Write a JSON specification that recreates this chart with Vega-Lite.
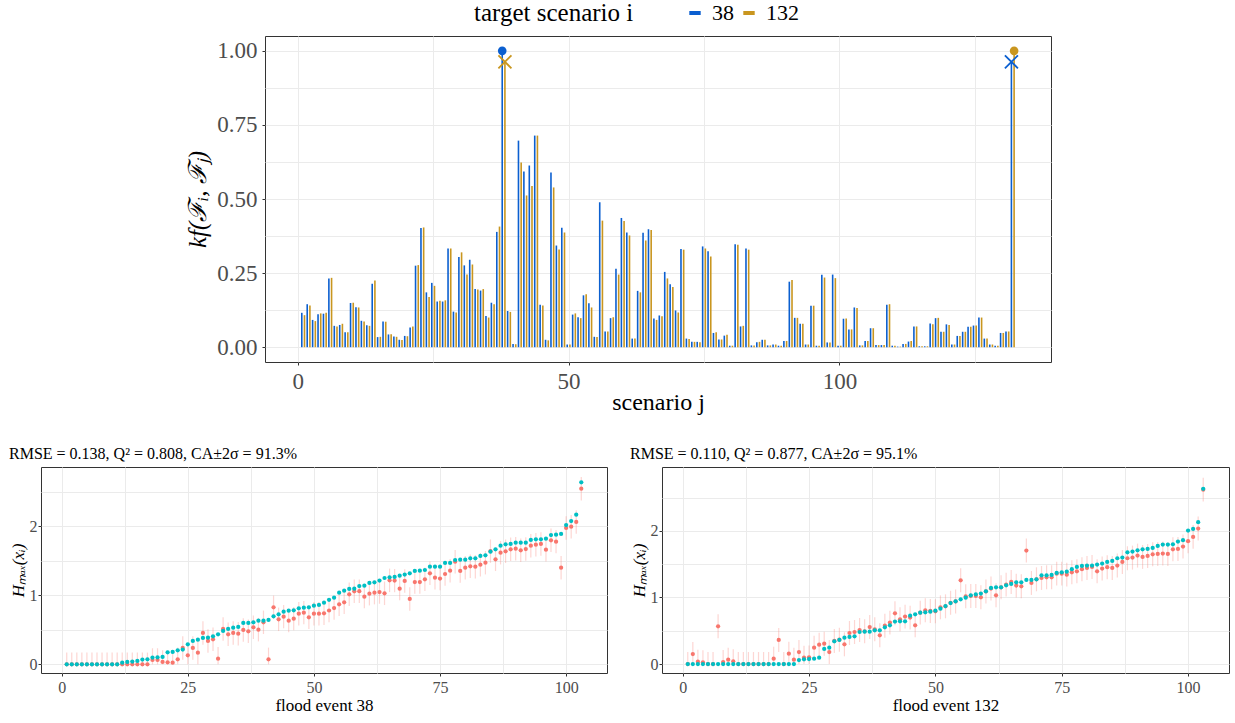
{
"$schema":"https://vega.github.io/schema/vega-lite/v6.json",
"background":"white",
"padding":{"left":8,"top":2,"right":5,"bottom":2},
"config":{
 "font":"Liberation Serif",
 "view":{"stroke":"#333333","strokeWidth":1},
 "axis":{"domain":false,"gridColor":"#EBEBEB","gridWidth":1,"tickColor":"#333333","tickSize":3,"labelColor":"#4D4D4D","titleColor":"#000000","titleFontWeight":"normal","labelFont":"Liberation Serif","titleFont":"Liberation Serif"},
 "legend":{"labelFont":"Liberation Serif","titleFont":"Liberation Serif"},
 "title":{"font":"Liberation Serif","fontWeight":"normal","color":"#000000"},
 "style":{"guide-title":{"font":"Liberation Serif"},"guide-label":{"font":"Liberation Serif"},"group-title":{"font":"Liberation Serif"}}
},
"datasets":{
"k":[
{"j":1,"a":0.116,"b":0.108},{"j":2,"a":0.145,"b":0.141},{"j":3,"a":0.092,"b":0.088},{"j":4,"a":0.111,"b":0.114},{"j":5,"a":0.113,"b":0.116},{"j":6,"a":0.232,"b":0.234},{"j":7,"a":0.072,"b":0.070},{"j":8,"a":0.075,"b":0.079},{"j":9,"a":0.050,"b":0.050},{"j":10,"a":0.149,"b":0.150},
{"j":11,"a":0.135,"b":0.134},{"j":12,"a":0.089,"b":0.087},{"j":13,"a":0.074,"b":0.072},{"j":14,"a":0.214,"b":0.225},{"j":15,"a":0.034,"b":0.035},{"j":16,"a":0.087,"b":0.086},{"j":17,"a":0.043,"b":0.044},{"j":18,"a":0.036,"b":0.035},{"j":19,"a":0.025,"b":0.024},{"j":20,"a":0.038,"b":0.037},
{"j":21,"a":0.066,"b":0.070},{"j":22,"a":0.275,"b":0.277},{"j":23,"a":0.402,"b":0.404},{"j":24,"a":0.185,"b":0.169},{"j":25,"a":0.217,"b":0.207},{"j":26,"a":0.154,"b":0.157},{"j":27,"a":0.154,"b":0.158},{"j":28,"a":0.333,"b":0.333},{"j":29,"a":0.120,"b":0.117},{"j":30,"a":0.304,"b":0.320},
{"j":31,"a":0.276,"b":0.245},{"j":32,"a":0.295,"b":0.279},{"j":33,"a":0.196,"b":0.195},{"j":34,"a":0.191,"b":0.196},{"j":35,"a":0.105,"b":0.100},{"j":36,"a":0.150,"b":0.145},{"j":37,"a":0.389,"b":0.407},{"j":38,"a":1.0,"b":0.963},{"j":39,"a":0.122,"b":0.119},{"j":40,"a":0.011,"b":0.010},
{"j":41,"a":0.697,"b":0.623},{"j":42,"a":0.593,"b":0.512},{"j":43,"a":0.613,"b":0.544},{"j":44,"a":0.714,"b":0.714},{"j":45,"a":0.143,"b":0.141},{"j":46,"a":0.025,"b":0.023},{"j":47,"a":0.589,"b":0.539},{"j":48,"a":0.343,"b":0.330},{"j":49,"a":0.403,"b":0.387},{"j":50,"a":0.009,"b":0.009},
{"j":51,"a":0.110,"b":0.114},{"j":52,"a":0.101,"b":0.098},{"j":53,"a":0.175,"b":0.179},{"j":54,"a":0.148,"b":0.134},{"j":55,"a":0.035,"b":0.034},{"j":56,"a":0.489,"b":0.427},{"j":57,"a":0.053,"b":0.053},{"j":58,"a":0.098,"b":0.101},{"j":59,"a":0.265,"b":0.245},{"j":60,"a":0.436,"b":0.426},
{"j":61,"a":0.387,"b":0.377},{"j":62,"a":0.029,"b":0.029},{"j":63,"a":0.190,"b":0.185},{"j":64,"a":0.386,"b":0.360},{"j":65,"a":0.398,"b":0.395},{"j":66,"a":0.097,"b":0.092},{"j":67,"a":0.107,"b":0.104},{"j":68,"a":0.254,"b":0.232},{"j":69,"a":0.212,"b":0.203},{"j":70,"a":0.124,"b":0.117},
{"j":71,"a":0.331,"b":0.329},{"j":72,"a":0.029,"b":0.028},{"j":73,"a":0.018,"b":0.018},{"j":74,"a":0.018,"b":0.017},{"j":75,"a":0.340,"b":0.333},{"j":76,"a":0.324,"b":0.306},{"j":77,"a":0.048,"b":0.050},{"j":78,"a":0.026,"b":0.026},{"j":79,"a":0.039,"b":0.042},{"j":80,"a":0.005,"b":0.005},
{"j":81,"a":0.347,"b":0.346},{"j":82,"a":0.070,"b":0.072},{"j":83,"a":0.333,"b":0.329},{"j":84,"a":0.006,"b":0.006},{"j":85,"a":0.017,"b":0.018},{"j":86,"a":0.025,"b":0.025},{"j":87,"a":0.006,"b":0.006},{"j":88,"a":0.009,"b":0.009},{"j":89,"a":0.005,"b":0.005},{"j":90,"a":0.021,"b":0.021},
{"j":91,"a":0.221,"b":0.227},{"j":92,"a":0.099,"b":0.099},{"j":93,"a":0.079,"b":0.079},{"j":94,"a":0.009,"b":0.009},{"j":95,"a":0.140,"b":0.140},{"j":96,"a":0.005,"b":0.005},{"j":97,"a":0.244,"b":0.235},{"j":98,"a":0.016,"b":0.016},{"j":99,"a":0.245,"b":0.233},{"j":100,"a":0.005,"b":0.005},
{"j":101,"a":0.096,"b":0.097},{"j":102,"a":0.060,"b":0.060},{"j":103,"a":0.134,"b":0.132},{"j":104,"a":0.006,"b":0.006},{"j":105,"a":0.021,"b":0.021},{"j":106,"a":0.064,"b":0.064},{"j":107,"a":0.007,"b":0.007},{"j":108,"a":0.007,"b":0.007},{"j":109,"a":0.143,"b":0.145},{"j":110,"a":0.005,"b":0.005},
{"j":111,"a":0.002,"b":0.002},{"j":112,"a":0.011,"b":0.011},{"j":113,"a":0.019,"b":0.021},{"j":114,"a":0.070,"b":0.070},{"j":115,"a":0.003,"b":0.003},{"j":116,"a":0.003,"b":0.003},{"j":117,"a":0.080,"b":0.077},{"j":118,"a":0.098,"b":0.099},{"j":119,"a":0.052,"b":0.052},{"j":120,"a":0.077,"b":0.075},
{"j":121,"a":0.009,"b":0.009},{"j":122,"a":0.038,"b":0.038},{"j":123,"a":0.052,"b":0.052},{"j":124,"a":0.069,"b":0.069},{"j":125,"a":0.073,"b":0.073},{"j":126,"a":0.100,"b":0.100},{"j":127,"a":0.029,"b":0.029},{"j":128,"a":0.009,"b":0.009},{"j":129,"a":0.005,"b":0.005},{"j":130,"a":0.048,"b":0.048},
{"j":131,"a":0.053,"b":0.053},{"j":132,"a":0.963,"b":1.0}
],
"e38":[
{"i":1,"o":0,"p":0,"lo":0,"hi":0.17},{"i":2,"o":0,"p":0,"lo":0,"hi":0.17},{"i":3,"o":0,"p":0,"lo":0,"hi":0.17},{"i":4,"o":0,"p":0,"lo":0,"hi":0.17},{"i":5,"o":0,"p":0,"lo":0,"hi":0.17},{"i":6,"o":0,"p":0,"lo":0,"hi":0.17},{"i":7,"o":0,"p":0,"lo":0,"hi":0.17},{"i":8,"o":0,"p":0,"lo":0,"hi":0.17},{"i":9,"o":0,"p":0,"lo":0,"hi":0.17},{"i":10,"o":0,"p":0,"lo":0,"hi":0.17},
{"i":11,"o":0,"p":0,"lo":0,"hi":0.17},{"i":12,"o":0.024,"p":0,"lo":0,"hi":0.17},{"i":13,"o":0.034,"p":0,"lo":0,"hi":0.17},{"i":14,"o":0.039,"p":0,"lo":0,"hi":0.17},{"i":15,"o":0.048,"p":0,"lo":0,"hi":0.17},{"i":16,"o":0.068,"p":0,"lo":0,"hi":0.17},{"i":17,"o":0.072,"p":0,"lo":0,"hi":0.17},{"i":18,"o":0.097,"p":0.063,"lo":0,"hi":0.233},{"i":19,"o":0.101,"p":0.063,"lo":0,"hi":0.233},{"i":20,"o":0.106,"p":0.034,"lo":0,"hi":0.204},
{"i":21,"o":0.174,"p":0.029,"lo":0,"hi":0.199},{"i":22,"o":0.179,"p":0.024,"lo":0,"hi":0.194},{"i":23,"o":0.203,"p":0.072,"lo":0,"hi":0.242},{"i":24,"o":0.213,"p":0.237,"lo":0.067,"hi":0.407},{"i":25,"o":0.290,"p":0.130,"lo":0,"hi":0.300},{"i":26,"o":0.338,"p":0.237,"lo":0.067,"hi":0.407},{"i":27,"o":0.357,"p":0.169,"lo":0,"hi":0.339},{"i":28,"o":0.382,"p":0.454,"lo":0.284,"hi":0.624},{"i":29,"o":0.386,"p":0.338,"lo":0.168,"hi":0.508},{"i":30,"o":0.406,"p":0.362,"lo":0.192,"hi":0.532},
{"i":31,"o":0.435,"p":0.082,"lo":0,"hi":0.252},{"i":32,"o":0.483,"p":0.512,"lo":0.342,"hi":0.682},{"i":33,"o":0.512,"p":0.435,"lo":0.265,"hi":0.605},{"i":34,"o":0.531,"p":0.454,"lo":0.284,"hi":0.624},{"i":35,"o":0.541,"p":0.444,"lo":0.274,"hi":0.614},{"i":36,"o":0.599,"p":0.498,"lo":0.328,"hi":0.668},{"i":37,"o":0.599,"p":0.478,"lo":0.308,"hi":0.648},{"i":38,"o":0.609,"p":0.536,"lo":0.366,"hi":0.706},{"i":39,"o":0.633,"p":0.502,"lo":0.332,"hi":0.672},{"i":40,"o":0.633,"p":0.609,"lo":0.439,"hi":0.779},
{"i":41,"o":0.643,"p":0.072,"lo":0,"hi":0.242},{"i":42,"o":0.696,"p":0.826,"lo":0.656,"hi":0.996},{"i":43,"o":0.725,"p":0.652,"lo":0.482,"hi":0.822},{"i":44,"o":0.763,"p":0.691,"lo":0.521,"hi":0.861},{"i":45,"o":0.778,"p":0.633,"lo":0.463,"hi":0.803},{"i":46,"o":0.783,"p":0.662,"lo":0.492,"hi":0.832},{"i":47,"o":0.812,"p":0.734,"lo":0.564,"hi":0.904},{"i":48,"o":0.821,"p":0.749,"lo":0.579,"hi":0.919},{"i":49,"o":0.826,"p":0.681,"lo":0.511,"hi":0.851},{"i":50,"o":0.850,"p":0.734,"lo":0.564,"hi":0.904},
{"i":51,"o":0.860,"p":0.734,"lo":0.564,"hi":0.904},{"i":52,"o":0.894,"p":0.739,"lo":0.569,"hi":0.909},{"i":53,"o":0.935,"p":0.780,"lo":0.610,"hi":0.950},{"i":54,"o":0.966,"p":0.816,"lo":0.646,"hi":0.986},{"i":55,"o":1.039,"p":0.870,"lo":0.700,"hi":1.040},{"i":56,"o":1.068,"p":0.899,"lo":0.729,"hi":1.069},{"i":57,"o":1.092,"p":1.014,"lo":0.844,"hi":1.184},{"i":58,"o":1.097,"p":1.058,"lo":0.888,"hi":1.228},{"i":59,"o":1.135,"p":1.060,"lo":0.890,"hi":1.230},{"i":60,"o":1.140,"p":0.981,"lo":0.811,"hi":1.151},
{"i":61,"o":1.179,"p":1.024,"lo":0.854,"hi":1.194},{"i":62,"o":1.188,"p":1.039,"lo":0.869,"hi":1.209},{"i":63,"o":1.213,"p":1.048,"lo":0.878,"hi":1.218},{"i":64,"o":1.251,"p":1.029,"lo":0.859,"hi":1.199},{"i":65,"o":1.261,"p":1.217,"lo":1.047,"hi":1.387},{"i":66,"o":1.266,"p":1.213,"lo":1.043,"hi":1.383},{"i":67,"o":1.285,"p":1.097,"lo":0.927,"hi":1.267},{"i":68,"o":1.300,"p":1.208,"lo":1.038,"hi":1.378},{"i":69,"o":1.319,"p":0.947,"lo":0.777,"hi":1.117},{"i":70,"o":1.353,"p":1.193,"lo":1.023,"hi":1.363},
{"i":71,"o":1.357,"p":1.193,"lo":1.023,"hi":1.363},{"i":72,"o":1.367,"p":1.232,"lo":1.062,"hi":1.402},{"i":73,"o":1.415,"p":1.319,"lo":1.149,"hi":1.489},{"i":74,"o":1.415,"p":1.256,"lo":1.086,"hi":1.426},{"i":75,"o":1.415,"p":1.242,"lo":1.072,"hi":1.412},{"i":76,"o":1.469,"p":1.309,"lo":1.139,"hi":1.479},{"i":77,"o":1.469,"p":1.357,"lo":1.187,"hi":1.527},{"i":78,"o":1.512,"p":1.488,"lo":1.318,"hi":1.658},{"i":79,"o":1.517,"p":1.353,"lo":1.183,"hi":1.523},{"i":80,"o":1.517,"p":1.401,"lo":1.231,"hi":1.571},
{"i":81,"o":1.536,"p":1.420,"lo":1.250,"hi":1.590},{"i":82,"o":1.536,"p":1.415,"lo":1.245,"hi":1.585},{"i":83,"o":1.570,"p":1.444,"lo":1.274,"hi":1.614},{"i":84,"o":1.580,"p":1.473,"lo":1.303,"hi":1.643},{"i":85,"o":1.633,"p":1.640,"lo":1.470,"hi":1.810},{"i":86,"o":1.667,"p":1.522,"lo":1.352,"hi":1.692},{"i":87,"o":1.720,"p":1.618,"lo":1.448,"hi":1.788},{"i":88,"o":1.739,"p":1.638,"lo":1.468,"hi":1.808},{"i":89,"o":1.744,"p":1.667,"lo":1.497,"hi":1.837},{"i":90,"o":1.763,"p":1.676,"lo":1.506,"hi":1.846},
{"i":91,"o":1.763,"p":1.652,"lo":1.482,"hi":1.822},{"i":92,"o":1.763,"p":1.671,"lo":1.501,"hi":1.841},{"i":93,"o":1.802,"p":1.720,"lo":1.550,"hi":1.890},{"i":94,"o":1.812,"p":1.734,"lo":1.564,"hi":1.904},{"i":95,"o":1.812,"p":1.744,"lo":1.574,"hi":1.914},{"i":96,"o":1.821,"p":1.662,"lo":1.492,"hi":1.832},{"i":97,"o":1.874,"p":1.797,"lo":1.627,"hi":1.967},{"i":98,"o":1.879,"p":1.778,"lo":1.608,"hi":1.948},{"i":99,"o":1.889,"p":1.401,"lo":1.231,"hi":1.571},{"i":100,"o":2.019,"p":1.976,"lo":1.806,"hi":2.146},
{"i":101,"o":2.077,"p":1.995,"lo":1.825,"hi":2.165},{"i":102,"o":2.169,"p":2.063,"lo":1.893,"hi":2.233},{"i":103,"o":2.638,"p":2.546,"lo":2.376,"hi":2.716}
],
"e132":[
{"i":1,"o":0,"p":0,"lo":0,"hi":0.18},{"i":2,"o":0,"p":0.150,"lo":0,"hi":0.330},{"i":3,"o":0,"p":0.035,"lo":0,"hi":0.215},{"i":4,"o":0,"p":0.025,"lo":0,"hi":0.205},{"i":5,"o":0,"p":0,"lo":0,"hi":0.18},{"i":6,"o":0,"p":0,"lo":0,"hi":0.18},{"i":7,"o":0,"p":0.566,"lo":0.386,"hi":0.746},{"i":8,"o":0,"p":0.030,"lo":0,"hi":0.210},{"i":9,"o":0,"p":0.065,"lo":0,"hi":0.245},{"i":10,"o":0,"p":0.040,"lo":0,"hi":0.220},
{"i":11,"o":0,"p":0,"lo":0,"hi":0.18},{"i":12,"o":0,"p":0,"lo":0,"hi":0.18},{"i":13,"o":0,"p":0,"lo":0,"hi":0.18},{"i":14,"o":0,"p":0,"lo":0,"hi":0.18},{"i":15,"o":0,"p":0,"lo":0,"hi":0.18},{"i":16,"o":0,"p":0,"lo":0,"hi":0.18},{"i":17,"o":0,"p":0,"lo":0,"hi":0.18},{"i":18,"o":0,"p":0.080,"lo":0,"hi":0.260},{"i":19,"o":0,"p":0.361,"lo":0.181,"hi":0.541},{"i":20,"o":0,"p":0,"lo":0,"hi":0.18},
{"i":21,"o":0,"p":0.155,"lo":0,"hi":0.335},{"i":22,"o":0,"p":0.065,"lo":0,"hi":0.245},{"i":23,"o":0.060,"p":0.180,"lo":0,"hi":0.360},{"i":24,"o":0.070,"p":0.095,"lo":0,"hi":0.275},{"i":25,"o":0.075,"p":0.100,"lo":0,"hi":0.280},{"i":26,"o":0.080,"p":0.246,"lo":0.066,"hi":0.426},{"i":27,"o":0.095,"p":0.291,"lo":0.111,"hi":0.471},{"i":28,"o":0.226,"p":0.306,"lo":0.126,"hi":0.486},{"i":29,"o":0.246,"p":0.180,"lo":0,"hi":0.360},{"i":30,"o":0.341,"p":0.346,"lo":0.166,"hi":0.526},
{"i":31,"o":0.361,"p":0.366,"lo":0.186,"hi":0.546},{"i":32,"o":0.396,"p":0.296,"lo":0.116,"hi":0.476},{"i":33,"o":0.406,"p":0.466,"lo":0.286,"hi":0.646},{"i":34,"o":0.416,"p":0.481,"lo":0.301,"hi":0.661},{"i":35,"o":0.481,"p":0.511,"lo":0.331,"hi":0.691},{"i":36,"o":0.486,"p":0.491,"lo":0.311,"hi":0.671},{"i":37,"o":0.486,"p":0.556,"lo":0.376,"hi":0.736},{"i":38,"o":0.506,"p":0.521,"lo":0.341,"hi":0.701},{"i":39,"o":0.506,"p":0.431,"lo":0.251,"hi":0.611},{"i":40,"o":0.551,"p":0.576,"lo":0.396,"hi":0.756},
{"i":41,"o":0.581,"p":0.622,"lo":0.442,"hi":0.802},{"i":42,"o":0.637,"p":0.762,"lo":0.582,"hi":0.942},{"i":43,"o":0.642,"p":0.672,"lo":0.492,"hi":0.852},{"i":44,"o":0.642,"p":0.712,"lo":0.532,"hi":0.892},{"i":45,"o":0.727,"p":0.697,"lo":0.517,"hi":0.877},{"i":46,"o":0.747,"p":0.581,"lo":0.401,"hi":0.761},{"i":47,"o":0.772,"p":0.772,"lo":0.592,"hi":0.952},{"i":48,"o":0.777,"p":0.807,"lo":0.627,"hi":0.987},{"i":49,"o":0.787,"p":0.797,"lo":0.617,"hi":0.977},{"i":50,"o":0.802,"p":0.792,"lo":0.612,"hi":0.972},
{"i":51,"o":0.832,"p":0.852,"lo":0.672,"hi":1.032},{"i":52,"o":0.870,"p":0.867,"lo":0.687,"hi":1.047},{"i":53,"o":0.915,"p":0.920,"lo":0.740,"hi":1.100},{"i":54,"o":0.942,"p":0.940,"lo":0.760,"hi":1.120},{"i":55,"o":0.972,"p":1.258,"lo":1.078,"hi":1.438},{"i":56,"o":0.997,"p":1.018,"lo":0.838,"hi":1.198},{"i":57,"o":1.033,"p":1.023,"lo":0.843,"hi":1.203},{"i":58,"o":1.048,"p":1.023,"lo":0.843,"hi":1.203},{"i":59,"o":1.058,"p":1.003,"lo":0.823,"hi":1.183},{"i":60,"o":1.093,"p":1.090,"lo":0.910,"hi":1.270},
{"i":61,"o":1.143,"p":1.133,"lo":0.953,"hi":1.313},{"i":62,"o":1.153,"p":1.033,"lo":0.853,"hi":1.213},{"i":63,"o":1.153,"p":1.153,"lo":0.973,"hi":1.333},{"i":64,"o":1.183,"p":1.193,"lo":1.013,"hi":1.373},{"i":65,"o":1.203,"p":1.233,"lo":1.053,"hi":1.413},{"i":66,"o":1.228,"p":1.178,"lo":0.998,"hi":1.358},{"i":67,"o":1.228,"p":1.168,"lo":0.988,"hi":1.348},{"i":68,"o":1.263,"p":1.704,"lo":1.524,"hi":1.884},{"i":69,"o":1.263,"p":1.218,"lo":1.038,"hi":1.398},{"i":70,"o":1.273,"p":1.273,"lo":1.093,"hi":1.453},
{"i":71,"o":1.333,"p":1.293,"lo":1.113,"hi":1.473},{"i":72,"o":1.333,"p":1.303,"lo":1.123,"hi":1.483},{"i":73,"o":1.338,"p":1.303,"lo":1.123,"hi":1.483},{"i":74,"o":1.368,"p":1.358,"lo":1.178,"hi":1.538},{"i":75,"o":1.378,"p":1.358,"lo":1.178,"hi":1.538},{"i":76,"o":1.388,"p":1.343,"lo":1.163,"hi":1.523},{"i":77,"o":1.424,"p":1.378,"lo":1.198,"hi":1.558},{"i":78,"o":1.459,"p":1.393,"lo":1.213,"hi":1.573},{"i":79,"o":1.474,"p":1.424,"lo":1.244,"hi":1.604},{"i":80,"o":1.479,"p":1.444,"lo":1.264,"hi":1.624},
{"i":81,"o":1.479,"p":1.459,"lo":1.279,"hi":1.639},{"i":82,"o":1.494,"p":1.393,"lo":1.213,"hi":1.573},{"i":83,"o":1.509,"p":1.434,"lo":1.254,"hi":1.614},{"i":84,"o":1.534,"p":1.454,"lo":1.274,"hi":1.634},{"i":85,"o":1.549,"p":1.444,"lo":1.264,"hi":1.624},{"i":86,"o":1.589,"p":1.479,"lo":1.299,"hi":1.659},{"i":87,"o":1.599,"p":1.534,"lo":1.354,"hi":1.714},{"i":88,"o":1.679,"p":1.589,"lo":1.409,"hi":1.769},{"i":89,"o":1.689,"p":1.599,"lo":1.419,"hi":1.779},{"i":90,"o":1.709,"p":1.629,"lo":1.449,"hi":1.809},
{"i":91,"o":1.724,"p":1.609,"lo":1.429,"hi":1.789},{"i":92,"o":1.729,"p":1.624,"lo":1.444,"hi":1.804},{"i":93,"o":1.744,"p":1.649,"lo":1.469,"hi":1.829},{"i":94,"o":1.774,"p":1.654,"lo":1.474,"hi":1.834},{"i":95,"o":1.794,"p":1.659,"lo":1.479,"hi":1.839},{"i":96,"o":1.794,"p":1.654,"lo":1.474,"hi":1.834},{"i":97,"o":1.799,"p":1.724,"lo":1.544,"hi":1.904},{"i":98,"o":1.840,"p":1.729,"lo":1.549,"hi":1.909},{"i":99,"o":1.860,"p":1.764,"lo":1.584,"hi":1.944},{"i":100,"o":2.005,"p":1.845,"lo":1.665,"hi":2.025},
{"i":101,"o":2.030,"p":1.910,"lo":1.730,"hi":2.090},{"i":102,"o":2.130,"p":2.035,"lo":1.855,"hi":2.215},{"i":103,"o":2.632,"p":2.620,"lo":2.440,"hi":2.800}
]
},
"spacing":30,
"vconcat":[
{
 "spacing":0,
 "hconcat":[
 {"width":144,"height":20,"data":{"values":[]},"mark":"point","view":{"stroke":null}},
 {
 "width":786,"height":326,
 "data":{"name":"k"},
 "encoding":{"x":{"field":"j","type":"quantitative","scale":{"domain":[-6.05,139.05],"nice":false,"zero":false},
   "axis":{"title":"scenario j","values":[0,25,50,75,100,125],"labelExpr":"datum.value % 50 == 0 ? datum.label : ''","tickColor":{"condition":{"test":"datum.value % 50 != 0","value":"transparent"},"value":"#333333"},"labelFontSize":23,"titleFontSize":24,"labelPadding":5,"titlePadding":-3,"labelFont":"Liberation Serif","titleFont":"Liberation Serif"}}},
 "layer":[
  {"mark":{"type":"rule","strokeWidth":1.6,"xOffset":-1.4},
   "encoding":{"y":{"field":"a","type":"quantitative","scale":{"domain":[-0.05,1.05],"nice":false,"zero":false},
     "axis":{"title":"kf(ℱᵢ, ℱⱼ)","titleFontStyle":"italic","values":[0,0.125,0.25,0.375,0.5,0.625,0.75,0.875,1],"labelExpr":"(datum.value*4) % 1 == 0 ? format(datum.value,'.2f') : ''","tickColor":{"condition":{"test":"(datum.value*4) % 1 != 0","value":"transparent"},"value":"#333333"},"labelFontSize":23,"titleFontSize":25,"labelPadding":5,"titlePadding":6,"labelFont":"Liberation Serif","titleFont":"Liberation Serif"}},
     "y2":{"datum":0},
     "color":{"datum":"38","type":"nominal","scale":{"domain":["38","132"],"range":["#0B5FD0","#C9961F"]},
       "legend":{"orient":"none","legendX":433,"legendY":-34,"direction":"horizontal","title":"target scenario i","titleOrient":"left","titleFontSize":25,"labelFontSize":22,"titleFont":"Liberation Serif","labelFont":"Liberation Serif","titleFontWeight":"normal","titleColor":"#000000","labelColor":"#000000","symbolType":"stroke","symbolStrokeWidth":4,"symbolSize":130,"titlePadding":50,"labelOffset":6,"columnPadding":1}}}},
  {"mark":{"type":"rule","strokeWidth":1.6,"xOffset":1.3},
   "encoding":{"y":{"field":"b","type":"quantitative","title":"kf(ℱᵢ, ℱⱼ)"},"y2":{"datum":0},"color":{"datum":"132","type":"nominal"}}},
  {"transform":[{"filter":"datum.j == 38"}],
   "mark":{"type":"point","shape":"circle","filled":true,"opacity":1,"size":75,"xOffset":-1.4},
   "encoding":{"y":{"field":"a","type":"quantitative","title":"kf(ℱᵢ, ℱⱼ)"},"color":{"datum":"38","type":"nominal"}}},
  {"transform":[{"filter":"datum.j == 38"}],
   "mark":{"type":"point","shape":"M-1,-1L1,1M-1,1L1,-1","filled":false,"opacity":1,"size":170,"strokeWidth":1.8,"xOffset":1.3},
   "encoding":{"y":{"field":"b","type":"quantitative","title":"kf(ℱᵢ, ℱⱼ)"},"color":{"datum":"132","type":"nominal"}}},
  {"transform":[{"filter":"datum.j == 132"}],
   "mark":{"type":"point","shape":"circle","filled":true,"opacity":1,"size":75,"xOffset":1.3},
   "encoding":{"y":{"field":"b","type":"quantitative","title":"kf(ℱᵢ, ℱⱼ)"},"color":{"datum":"132","type":"nominal"}}},
  {"transform":[{"filter":"datum.j == 132"}],
   "mark":{"type":"point","shape":"M-1,-1L1,1M-1,1L1,-1","filled":false,"opacity":1,"size":170,"strokeWidth":1.8,"xOffset":-1.4},
   "encoding":{"y":{"field":"a","type":"quantitative","title":"kf(ℱᵢ, ℱⱼ)"},"color":{"datum":"38","type":"nominal"}}}
 ]
 }
 ]
},
{
 "spacing":21,
 "hconcat":[
 {
  "width":566,"height":206,
  "data":{"name":"e38"},
  "title":{"text":"RMSE = 0.138,  Q² = 0.808,  CA±2σ = 91.3%","anchor":"start","fontSize":16,"offset":5,"font":"Liberation Serif"},
  "encoding":{"x":{"field":"i","type":"quantitative","scale":{"domain":[-4.1,108.1],"nice":false,"zero":false},
    "axis":{"title":"flood event 38","values":[0,12.5,25,37.5,50,62.5,75,87.5,100],"labelExpr":"datum.value % 25 == 0 ? format(datum.value,'d') : ''","tickColor":{"condition":{"test":"datum.value % 25 != 0","value":"transparent"},"value":"#333333"},"labelFontSize":16,"titleFontSize":17,"labelPadding":3,"titlePadding":2,"labelFont":"Liberation Serif","titleFont":"Liberation Serif"}}},
  "layer":[
   {"mark":{"type":"rule","color":"#F8766D","opacity":0.3,"strokeWidth":1.2},
    "encoding":{"y":{"field":"lo","type":"quantitative","scale":{"domain":[-0.126,2.86],"nice":false,"zero":false},
      "axis":{"title":"Hₘₐₓ(xᵢ)","titleFontStyle":"italic","values":[0,0.5,1,1.5,2,2.5],"labelExpr":"datum.value % 1 == 0 ? format(datum.value,'d') : ''","tickColor":{"condition":{"test":"datum.value % 1 != 0","value":"transparent"},"value":"#333333"},"labelFontSize":16,"titleFontSize":17,"labelPadding":1,"titlePadding":2,"labelFont":"Liberation Serif","titleFont":"Liberation Serif"}},
     "y2":{"field":"hi"}}},
   {"mark":{"type":"point","filled":true,"opacity":1,"size":18,"color":"#F8766D"},
    "encoding":{"y":{"field":"p","type":"quantitative","title":"Hₘₐₓ(xᵢ)"}}},
   {"mark":{"type":"point","filled":true,"opacity":1,"size":18,"color":"#00BFC4"},
    "encoding":{"y":{"field":"o","type":"quantitative","title":"Hₘₐₓ(xᵢ)"}}}
  ]
 },
 {
  "width":567,"height":206,
  "data":{"name":"e132"},
  "title":{"text":"RMSE = 0.110,  Q² = 0.877,  CA±2σ = 95.1%","anchor":"start","fontSize":16,"offset":5,"font":"Liberation Serif"},
  "encoding":{"x":{"field":"i","type":"quantitative","scale":{"domain":[-4.1,108.1],"nice":false,"zero":false},
    "axis":{"title":"flood event 132","values":[0,12.5,25,37.5,50,62.5,75,87.5,100],"labelExpr":"datum.value % 25 == 0 ? format(datum.value,'d') : ''","tickColor":{"condition":{"test":"datum.value % 25 != 0","value":"transparent"},"value":"#333333"},"labelFontSize":16,"titleFontSize":17,"labelPadding":3,"titlePadding":2,"labelFont":"Liberation Serif","titleFont":"Liberation Serif"}}},
  "layer":[
   {"mark":{"type":"rule","color":"#F8766D","opacity":0.3,"strokeWidth":1.2},
    "encoding":{"y":{"field":"lo","type":"quantitative","scale":{"domain":[-0.135,2.96],"nice":false,"zero":false},
      "axis":{"title":"Hₘₐₓ(xᵢ)","titleFontStyle":"italic","values":[0,0.5,1,1.5,2,2.5],"labelExpr":"datum.value % 1 == 0 ? format(datum.value,'d') : ''","tickColor":{"condition":{"test":"datum.value % 1 != 0","value":"transparent"},"value":"#333333"},"labelFontSize":16,"titleFontSize":17,"labelPadding":1,"titlePadding":2,"labelFont":"Liberation Serif","titleFont":"Liberation Serif"}},
     "y2":{"field":"hi"}}},
   {"mark":{"type":"point","filled":true,"opacity":1,"size":18,"color":"#F8766D"},
    "encoding":{"y":{"field":"p","type":"quantitative","title":"Hₘₐₓ(xᵢ)"}}},
   {"mark":{"type":"point","filled":true,"opacity":1,"size":18,"color":"#00BFC4"},
    "encoding":{"y":{"field":"o","type":"quantitative","title":"Hₘₐₓ(xᵢ)"}}}
  ]
 }
 ]
}
]
}
